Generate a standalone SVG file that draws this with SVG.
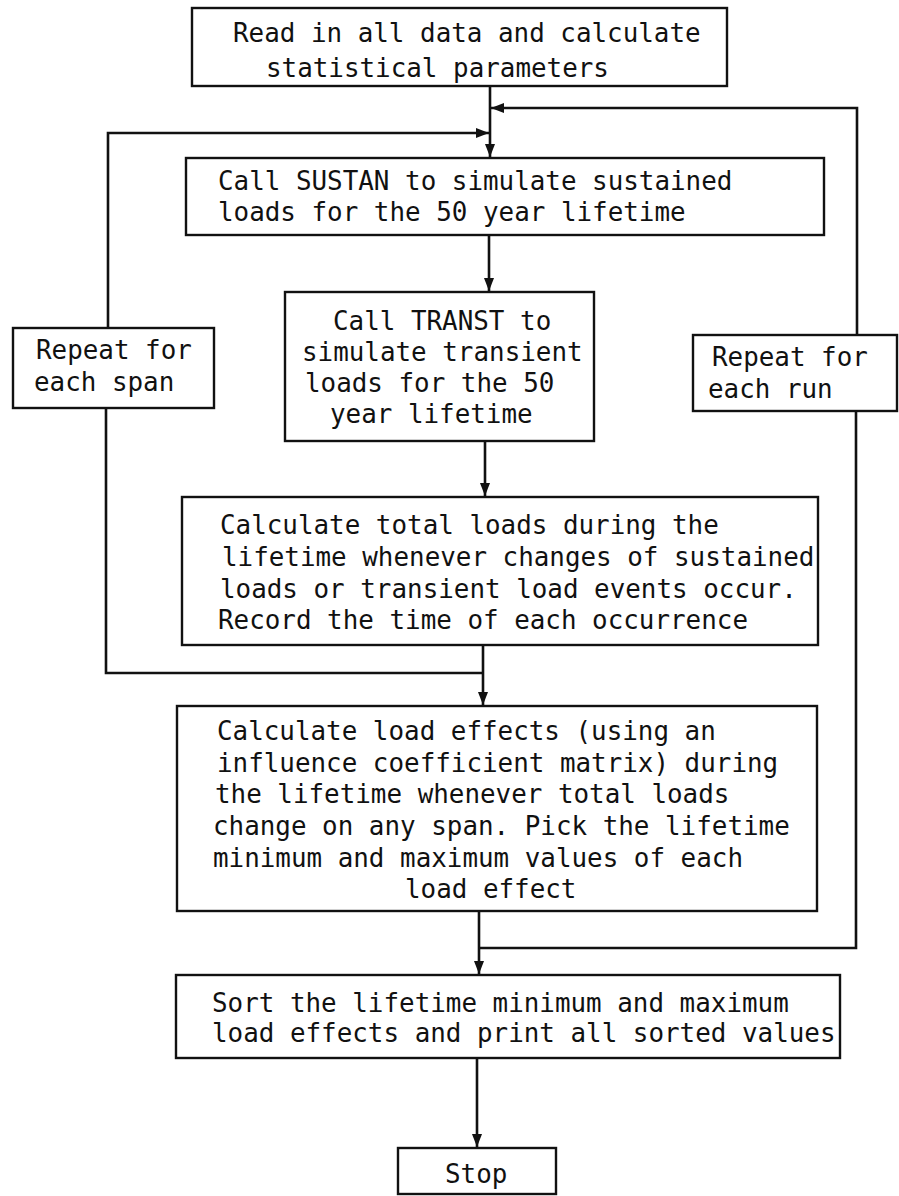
<svg xmlns="http://www.w3.org/2000/svg" width="899" height="1196" viewBox="0 0 899 1196">
<style>
.box{fill:#ffffff;stroke:#111;stroke-width:2.4}
.t{font-family:"DejaVu Sans Mono","Liberation Mono",monospace;font-size:25.9px;fill:#111}
.c{fill:none;stroke:#111;stroke-width:2.6}
</style>
<defs>
<marker id="ah" markerUnits="userSpaceOnUse" markerWidth="14" markerHeight="12" refX="13" refY="5" orient="auto">
<path d="M0,0 L13,5 L0,10 z" fill="#111"/>
</marker>
</defs>
<rect width="899" height="1196" fill="#ffffff"/>
<g id="connectors">
<path class="c" d="M490,86 V157" marker-end="url(#ah)"/>
<path class="c" d="M857,335 V108 H491" marker-end="url(#ah)"/>
<path class="c" d="M856,411 V948 H479"/>
<path class="c" d="M108,328 V133 H489" marker-end="url(#ah)"/>
<path class="c" d="M106,408 V673 H483"/>
<path class="c" d="M489,235 V291" marker-end="url(#ah)"/>
<path class="c" d="M485,441 V496" marker-end="url(#ah)"/>
<path class="c" d="M483,645 V705" marker-end="url(#ah)"/>
<path class="c" d="M479,911 V974" marker-end="url(#ah)"/>
<path class="c" d="M477,1058 V1147" marker-end="url(#ah)"/>
</g>
<g id="start">
<rect class="box" x="192" y="8" width="535" height="78"/>
<text class="t" x="233" y="42">Read in all data and calculate</text>
<text class="t" x="266" y="77">statistical parameters</text>
</g>
<g id="sustan">
<rect class="box" x="186" y="158" width="638" height="77"/>
<text class="t" x="218" y="190">Call SUSTAN to simulate sustained</text>
<text class="t" x="218" y="221">loads for the 50 year lifetime</text>
</g>
<g id="transt">
<rect class="box" x="285" y="292" width="309" height="149"/>
<text class="t" x="333" y="330">Call TRANST to</text>
<text class="t" x="302" y="361">simulate transient</text>
<text class="t" x="305" y="392">loads for the 50</text>
<text class="t" x="330" y="423">year lifetime</text>
</g>
<g id="repeat-span">
<rect class="box" x="13" y="328" width="201" height="80"/>
<text class="t" x="36" y="359">Repeat for</text>
<text class="t" x="34" y="391">each span</text>
</g>
<g id="repeat-run">
<rect class="box" x="693" y="335" width="204" height="76"/>
<text class="t" x="712" y="366">Repeat for</text>
<text class="t" x="708" y="398">each run</text>
</g>
<g id="total-loads">
<rect class="box" x="182" y="497" width="636" height="148"/>
<text class="t" x="220" y="534">Calculate total loads during the</text>
<text class="t" x="222" y="566">lifetime whenever changes of sustained</text>
<text class="t" x="220" y="598">loads or transient load events occur.</text>
<text class="t" x="218" y="629">Record the time of each occurrence</text>
</g>
<g id="load-effects">
<rect class="box" x="177" y="706" width="640" height="205"/>
<text class="t" x="217" y="740">Calculate load effects (using an</text>
<text class="t" x="217" y="772">influence coefficient matrix) during</text>
<text class="t" x="215" y="803">the lifetime whenever total loads</text>
<text class="t" x="213" y="835">change on any span. Pick the lifetime</text>
<text class="t" x="213" y="867">minimum and maximum values of each</text>
<text class="t" x="405" y="898">load effect</text>
</g>
<g id="sort">
<rect class="box" x="176" y="975" width="664" height="83"/>
<text class="t" x="212" y="1012">Sort the lifetime minimum and maximum</text>
<text class="t" x="212" y="1042">load effects and print all sorted values</text>
</g>
<g id="stop">
<rect class="box" x="398" y="1148" width="158" height="46"/>
<text class="t" x="445" y="1183">Stop</text>
</g>
</svg>
